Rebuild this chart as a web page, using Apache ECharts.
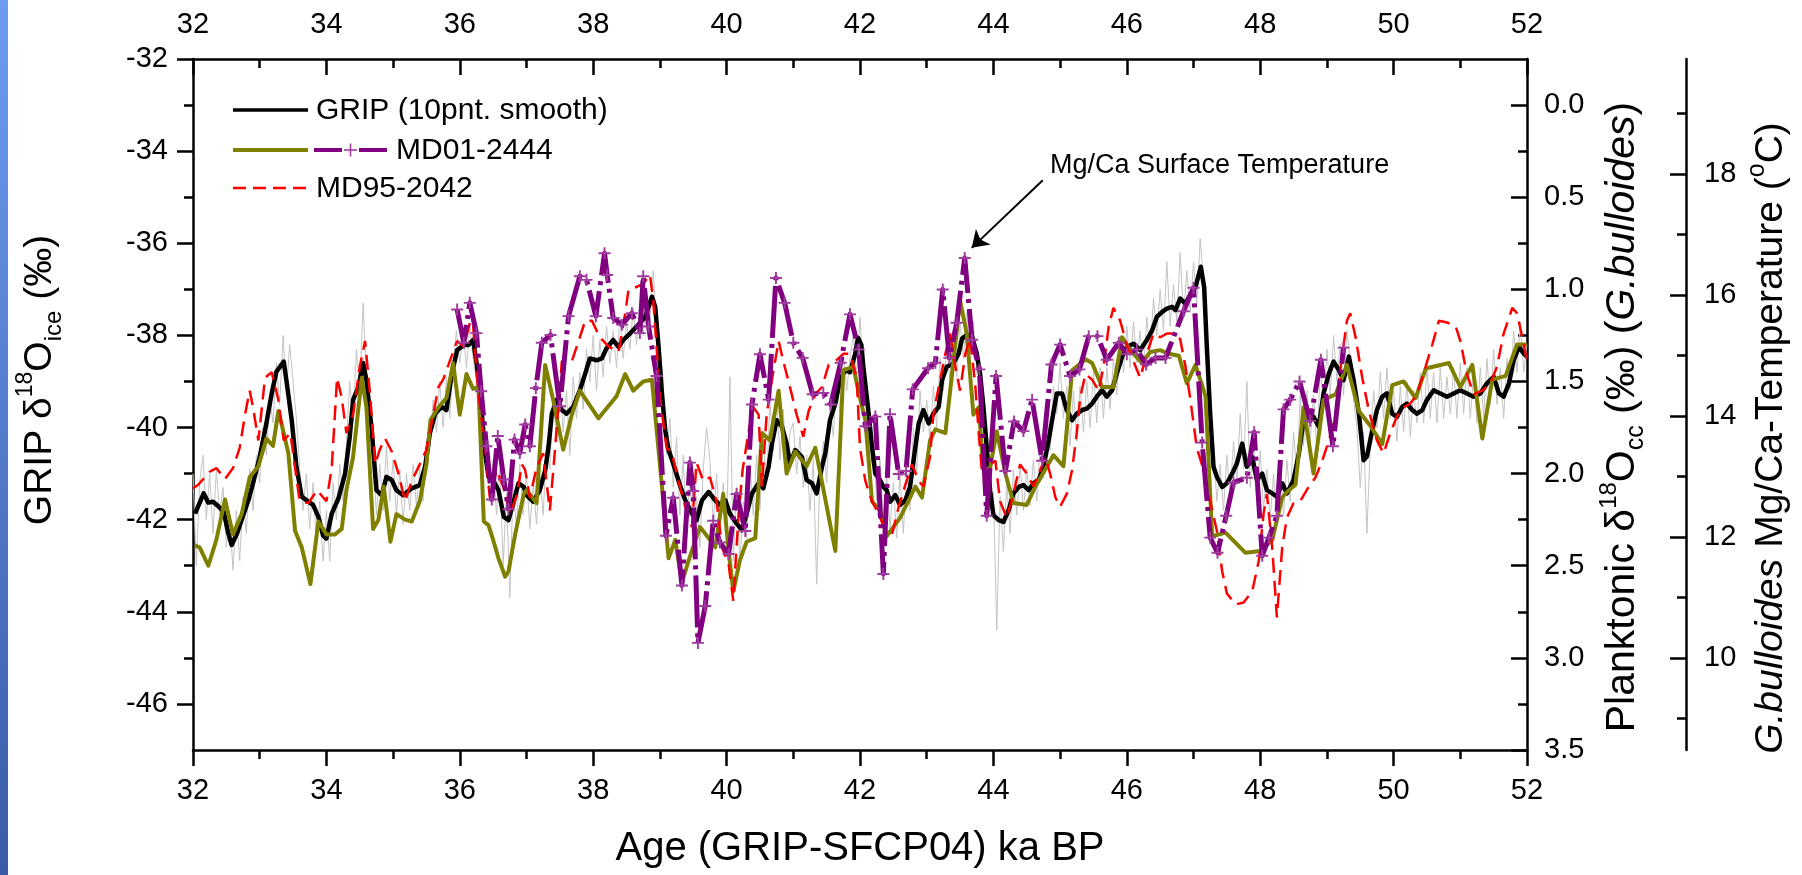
<!DOCTYPE html>
<html><head><meta charset="utf-8">
<script src="https://cdn.jsdelivr.net/npm/echarts@6/dist/echarts.min.js"></script>
<style>html,body{margin:0;padding:0;background:#fff}#c{width:1802px;height:875px}</style>
</head><body><div id="c"></div>
<script>
const FONT = '"Liberation Sans", Arial, Helvetica, sans-serif';

// ---------- axis ticks ----------
const ageMin = 32, ageMax = 52, ageInterval = 2;
const gripTicks = [-46, -44, -42, -40, -38, -36, -34, -32];
const gripMinorTicks = [-45, -43, -41, -39, -37, -35, -33];
const d18OTicks = [0, 0.5, 1, 1.5, 2, 2.5, 3, 3.5];
const d18OMinorTicks = [0.25, 0.75, 1.25, 1.75, 2.25, 2.75, 3.25];
const tempTicks = [10, 12, 14, 16, 18];
const tempMinorTicks = [9, 11, 13, 15, 17, 19];

// ---------- GRIP raw (20 values per ka, from 32.00 ka, step 0.05 ka) ----------
const gripRawStart = 32, gripRawStep = 0.05;
const gripRaw = [
-41.0,-43.0,-41.2,-40.6,-42.0,-41.0,-42.3,-40.9,-41.9,-41.3,-42.6,-41.9,-43.1,-41.8,-42.9,-41.5,-42.3,-40.9,-41.8,-40.6,
-41.2,-40.0,-40.6,-39.4,-39.9,-38.6,-39.5,-38.0,-39.2,-38.2,-39.0,-39.8,-40.9,-41.8,-41.0,-42.2,-41.2,-42.5,-41.6,-42.9,
-41.8,-42.9,-41.2,-42.0,-40.8,-41.6,-40.3,-39.0,-39.9,-38.3,-39.2,-37.3,-38.9,-39.6,-40.6,-41.9,-40.8,-41.8,-40.4,-41.6,
-40.7,-41.9,-40.9,-42.1,-41.0,-41.8,-40.8,-41.7,-40.9,-41.6,-40.3,-40.5,-39.4,-40.1,-39.0,-40.0,-38.9,-39.8,-38.6,-37.9,
-38.6,-37.9,-38.7,-37.8,-38.5,-39.0,-38.8,-40.3,-40.2,-41.6,-40.7,-41.9,-40.9,-43.0,-41.4,-43.7,-41.2,-42.2,-40.8,-41.9,
-41.0,-42.2,-41.2,-42.1,-41.0,-41.9,-40.4,-40.9,-39.3,-40.2,-39.0,-40.1,-39.2,-40.6,-38.9,-39.8,-38.8,-39.6,-38.3,-39.0,
-38.0,-39.2,-38.1,-38.9,-37.8,-38.6,-37.9,-38.7,-37.6,-38.5,-37.7,-38.3,-37.4,-38.2,-37.3,-38.0,-37.1,-37.7,-36.6,-37.8,
-38.2,-39.0,-40.6,-39.8,-41.3,-40.2,-41.9,-40.6,-42.4,-41.0,-42.8,-41.5,-42.6,-40.9,-40.0,-40.7,-42.1,-41.0,-42.3,-41.2,
-42.4,-38.9,-42.9,-41.3,-43.0,-41.6,-42.4,-40.8,-41.9,-40.6,-41.8,-40.3,-41.2,-39.4,-40.5,-39.3,-40.7,-39.6,-41.0,-40.1,
-39.9,-41.0,-40.2,-41.3,-40.6,-41.8,-40.7,-43.4,-41.0,-40.3,-41.2,-39.5,-40.2,-38.9,-39.7,-38.4,-39.2,-38.5,-38.0,-38.9,
-37.6,-38.9,-39.3,-40.9,-40.4,-41.6,-40.7,-42.0,-41.0,-42.2,-41.2,-42.4,-41.0,-42.3,-40.9,-41.8,-40.0,-41.0,-39.2,-40.1,
-39.4,-40.3,-39.1,-40.0,-38.5,-39.2,-38.2,-39.0,-38.0,-38.9,-37.7,-38.5,-37.5,-38.4,-37.7,-38.8,-39.0,-40.0,-40.9,-41.8,
-41.4,-44.4,-41.5,-42.7,-41.2,-42.3,-40.9,-41.9,-40.8,-41.8,-40.9,-41.7,-40.7,-41.6,-40.4,-41.1,-39.7,-40.5,-39.1,-39.7,
-38.6,-39.8,-39.1,-40.4,-39.2,-40.3,-39.1,-40.1,-39.0,-40.0,-38.8,-39.9,-38.7,-39.8,-38.7,-39.6,-38.5,-39.3,-38.0,-38.8,
-37.8,-38.7,-37.7,-38.6,-37.9,-38.8,-37.6,-38.4,-37.2,-38.0,-37.0,-37.9,-36.4,-37.8,-36.9,-37.7,-36.2,-37.6,-36.6,-37.5,
-36.4,-37.3,-35.9,-36.8,-38.6,-40.2,-40.4,-41.6,-40.8,-41.8,-40.6,-41.5,-40.3,-41.2,-39.7,-40.9,-39.0,-41.3,-40.2,-41.6,
-40.5,-41.8,-40.9,-42.0,-41.0,-42.1,-40.8,-41.9,-40.7,-41.6,-40.1,-41.0,-39.3,-40.4,-39.2,-40.3,-39.3,-40.5,-38.7,-39.6,
-38.3,-39.3,-38.0,-39.0,-38.2,-39.3,-37.9,-38.6,-39.4,-40.0,-41.3,-40.1,-42.3,-40.4,-39.2,-40.0,-38.8,-39.8,-38.7,-39.8,
-39.2,-40.3,-39.1,-40.1,-39.0,-40.2,-39.2,-39.9,-38.8,-39.9,-38.7,-39.8,-38.8,-39.9,-38.7,-39.8,-38.9,-39.7,-38.7,-39.8,
-38.6,-39.7,-38.7,-39.8,-38.8,-39.9,-38.7,-39.8,-38.5,-39.5,-38.3,-39.5,-38.7,-39.8,-38.5,-39.2,-37.9,-38.8,-37.7,-38.8,
-38.2
];

// ---------- GRIP 10-point smooth [age ka, d18O ice] ----------
const gripSmooth = [
[32.03,-41.87],[32.16,-41.43],[32.23,-41.63],[32.3,-41.61],[32.38,-41.71],[32.46,-41.83],[32.53,-42.3],[32.58,-42.55],[32.66,-42.3],[32.76,-41.87],[32.83,-41.58],[32.9,-41.21],[33.0,-40.64],[33.1,-39.91],[33.18,-39.26],[33.25,-38.79],[33.36,-38.57],[33.4,-38.97],[33.48,-39.84],[33.55,-40.85],[33.63,-41.5],[33.73,-41.61],[33.8,-41.68],[33.88,-41.94],[33.95,-42.34],[34.0,-42.41],[34.08,-41.87],[34.18,-41.54],[34.28,-41.0],[34.35,-40.2],[34.4,-39.4],[34.48,-39.12],[34.55,-38.6],[34.6,-38.97],[34.68,-40.06],[34.75,-41.36],[34.83,-41.47],[34.9,-41.07],[34.98,-41.14],[35.05,-41.36],[35.15,-41.47],[35.28,-41.32],[35.4,-41.25],[35.48,-40.85],[35.55,-40.13],[35.63,-39.7],[35.73,-39.55],[35.8,-39.62],[35.88,-38.83],[35.96,-38.32],[36.06,-38.21],[36.13,-38.21],[36.2,-38.1],[36.26,-38.68],[36.33,-39.7],[36.38,-40.56],[36.43,-41.07],[36.5,-41.14],[36.58,-41.36],[36.66,-41.94],[36.73,-42.01],[36.8,-41.65],[36.88,-41.21],[36.96,-41.29],[37.0,-41.47],[37.1,-41.61],[37.2,-41.36],[37.28,-40.93],[37.33,-40.42],[37.38,-39.7],[37.45,-39.4],[37.53,-39.62],[37.6,-39.7],[37.7,-39.55],[37.8,-39.19],[37.88,-38.83],[37.95,-38.5],[38.05,-38.54],[38.13,-38.5],[38.2,-38.28],[38.3,-38.1],[38.38,-38.25],[38.45,-38.1],[38.55,-37.96],[38.65,-37.81],[38.78,-37.6],[38.88,-37.16],[38.93,-37.38],[38.98,-38.25],[39.03,-39.26],[39.08,-40.06],[39.13,-40.49],[39.2,-40.78],[39.3,-41.25],[39.38,-41.58],[39.48,-41.87],[39.55,-42.01],[39.63,-41.58],[39.73,-41.4],[39.83,-41.58],[39.9,-41.68],[39.98,-41.58],[40.05,-41.87],[40.15,-42.08],[40.23,-42.23],[40.3,-41.87],[40.38,-41.43],[40.48,-41.21],[40.55,-41.32],[40.63,-40.85],[40.68,-40.35],[40.75,-39.84],[40.83,-39.98],[40.9,-40.35],[40.95,-40.78],[41.03,-40.49],[41.13,-40.64],[41.2,-41.14],[41.28,-41.21],[41.35,-41.43],[41.43,-40.85],[41.48,-40.56],[41.55,-39.84],[41.63,-39.48],[41.7,-38.97],[41.78,-38.75],[41.85,-38.8],[41.93,-38.39],[41.97,-38.05],[42.02,-38.2],[42.05,-38.68],[42.13,-39.7],[42.18,-40.42],[42.23,-41.0],[42.3,-41.14],[42.35,-41.29],[42.4,-41.36],[42.45,-41.61],[42.53,-41.47],[42.6,-41.68],[42.68,-41.58],[42.75,-41.29],[42.83,-40.42],[42.88,-39.91],[42.95,-39.62],[43.03,-39.91],[43.1,-39.7],[43.18,-39.55],[43.23,-38.97],[43.3,-38.68],[43.4,-38.61],[43.48,-38.39],[43.53,-38.07],[43.6,-37.99],[43.68,-38.03],[43.75,-38.39],[43.8,-38.83],[43.85,-39.55],[43.9,-40.42],[43.95,-41.36],[44.0,-41.9],[44.08,-42.01],[44.15,-42.05],[44.23,-41.79],[44.3,-41.43],[44.38,-41.29],[44.45,-41.25],[44.53,-41.36],[44.6,-41.21],[44.68,-41.14],[44.75,-40.85],[44.83,-40.27],[44.88,-39.84],[44.95,-39.26],[45.03,-39.26],[45.1,-39.62],[45.18,-39.84],[45.25,-39.7],[45.33,-39.62],[45.4,-39.59],[45.48,-39.48],[45.55,-39.33],[45.63,-39.19],[45.7,-39.33],[45.78,-39.19],[45.85,-38.83],[45.93,-38.46],[46.0,-38.25],[46.1,-38.18],[46.2,-38.32],[46.3,-38.1],[46.38,-37.89],[46.45,-37.6],[46.53,-37.49],[46.6,-37.42],[46.68,-37.38],[46.73,-37.45],[46.8,-37.2],[46.88,-37.31],[46.95,-37.12],[47.03,-36.95],[47.11,-36.51],[47.16,-36.95],[47.2,-38.25],[47.25,-39.7],[47.3,-40.85],[47.35,-41.07],[47.43,-41.29],[47.5,-41.21],[47.58,-41.0],[47.65,-40.78],[47.73,-40.35],[47.8,-40.85],[47.88,-40.64],[47.95,-41.14],[48.03,-41.0],[48.1,-41.36],[48.18,-41.43],[48.25,-41.5],[48.33,-41.21],[48.4,-41.43],[48.5,-41.14],[48.58,-40.56],[48.65,-39.84],[48.73,-39.7],[48.8,-39.77],[48.88,-39.98],[48.95,-39.26],[49.03,-38.83],[49.1,-38.57],[49.18,-38.75],[49.25,-38.97],[49.33,-38.46],[49.4,-38.97],[49.48,-39.7],[49.55,-40.71],[49.6,-40.63],[49.68,-40.06],[49.75,-39.62],[49.83,-39.33],[49.9,-39.26],[49.98,-39.7],[50.05,-39.77],[50.13,-39.55],[50.2,-39.48],[50.28,-39.62],[50.35,-39.7],[50.43,-39.62],[50.5,-39.4],[50.6,-39.19],[50.7,-39.26],[50.8,-39.33],[50.9,-39.26],[51.0,-39.19],[51.1,-39.26],[51.2,-39.33],[51.3,-39.26],[51.4,-39.04],[51.5,-38.9],[51.58,-39.26],[51.65,-39.33],[51.73,-39.04],[51.8,-38.54],[51.88,-38.25],[51.95,-38.39],[52.0,-38.46]
];

// ---------- MD01-2444 planktonic d18O (G. bulloides) [age, permil] ----------
const md01d18O = [
[32.03,2.39],[32.1,2.40],[32.23,2.50],[32.35,2.36],[32.48,2.14],[32.6,2.33],[32.73,2.22],[32.85,2.02],[32.98,1.96],[33.1,1.81],[33.2,1.85],[33.28,1.66],[33.36,1.78],[33.43,1.89],[33.53,2.31],[33.63,2.40],[33.76,2.60],[33.88,2.26],[34.0,2.33],[34.13,2.33],[34.23,2.30],[34.3,2.09],[34.4,1.91],[34.53,1.48],[34.6,1.64],[34.7,2.30],[34.78,2.25],[34.86,2.07],[34.96,2.37],[35.05,2.22],[35.18,2.25],[35.28,2.26],[35.4,2.15],[35.5,1.95],[35.56,1.71],[35.68,1.64],[35.8,1.59],[35.9,1.40],[36.0,1.68],[36.1,1.46],[36.2,1.54],[36.28,1.53],[36.36,2.26],[36.43,2.28],[36.5,2.36],[36.58,2.46],[36.68,2.56],[36.73,2.53],[36.83,2.33],[36.96,2.11],[37.0,2.09],[37.15,2.16],[37.28,1.41],[37.4,1.60],[37.55,1.87],[37.68,1.68],[37.8,1.55],[38.08,1.70],[38.35,1.58],[38.48,1.46],[38.6,1.55],[38.75,1.50],[38.88,1.49],[39.0,1.95],[39.13,2.46],[39.23,2.36],[39.33,2.59],[39.45,2.45],[39.6,2.29],[39.73,2.35],[39.83,2.40],[39.95,2.11],[40.03,2.42],[40.1,2.64],[40.2,2.47],[40.3,2.37],[40.43,2.35],[40.53,1.78],[40.65,1.82],[40.78,1.55],[40.9,2.0],[41.03,1.88],[41.2,1.96],[41.33,1.86],[41.63,2.42],[41.75,1.44],[41.9,1.42],[42.0,1.59],[42.08,1.71],[42.18,2.15],[42.3,2.20],[42.4,2.34],[42.6,2.24],[42.75,2.13],[42.83,2.07],[42.93,2.13],[43.05,1.82],[43.13,1.76],[43.28,1.78],[43.38,1.46],[43.5,1.06],[43.6,1.24],[43.7,1.68],[43.78,1.64],[43.85,1.98],[43.95,1.97],[44.05,1.77],[44.18,2.00],[44.3,2.16],[44.5,2.17],[44.63,2.07],[44.9,1.90],[45.05,1.96],[45.18,1.44],[45.38,1.38],[45.48,1.40],[45.63,1.53],[45.8,1.53],[45.93,1.26],[46.05,1.33],[46.23,1.40],[46.35,1.34],[46.5,1.33],[46.63,1.35],[46.78,1.36],[46.9,1.51],[47.03,1.41],[47.18,1.58],[47.28,2.34],[47.48,2.32],[47.78,2.43],[48.0,2.42],[48.18,2.36],[48.33,2.13],[48.4,2.10],[48.53,2.06],[48.65,1.64],[48.8,2.0],[48.95,1.60],[49.13,1.57],[49.3,1.41],[49.48,1.66],[49.65,1.74],[49.83,1.84],[49.98,1.52],[50.15,1.50],[50.33,1.59],[50.48,1.43],[50.83,1.40],[51.0,1.53],[51.18,1.41],[51.33,1.81],[51.48,1.49],[51.68,1.47],[51.85,1.30],[52.0,1.30]
];

// ---------- MD01-2444 G. bulloides Mg/Ca temperature [age, degC] ----------
const md01MgCa = [
[35.96,15.76],[36.06,15.21],[36.15,15.87],[36.25,15.37],[36.32,14.41],[36.4,13.5],[36.48,12.62],[36.57,13.67],[36.66,12.95],[36.73,12.46],[36.82,13.61],[36.9,13.39],[36.98,13.86],[37.05,13.5],[37.14,14.46],[37.23,15.21],[37.36,15.34],[37.5,14.16],[37.63,15.65],[37.8,16.31],[37.9,16.25],[38.04,15.65],[38.17,16.69],[38.21,16.33],[38.3,15.62],[38.43,15.51],[38.58,15.7],[38.7,15.37],[38.75,16.31],[38.83,15.48],[38.95,14.66],[39.09,12.02],[39.2,12.65],[39.33,11.2],[39.45,13.23],[39.5,12.76],[39.57,10.25],[39.68,10.86],[39.8,12.27],[39.9,11.91],[40.03,11.72],[40.15,12.71],[40.28,12.1],[40.38,14.19],[40.5,15.02],[40.63,14.27],[40.74,16.28],[40.87,15.87],[41.0,15.21],[41.14,14.96],[41.29,14.36],[41.45,14.38],[41.56,14.19],[41.71,14.88],[41.85,15.68],[41.98,15.1],[42.08,13.83],[42.23,13.99],[42.35,11.39],[42.45,14.03],[42.58,13.04],[42.69,13.09],[42.79,14.44],[43.02,14.79],[43.13,14.88],[43.24,16.09],[43.34,14.96],[43.45,15.54],[43.57,16.61],[43.68,15.26],[43.79,14.77],[43.9,12.35],[44.04,14.66],[44.18,13.09],[44.31,13.91],[44.45,13.75],[44.58,14.27],[44.73,13.26],[44.87,14.85],[45.0,15.18],[45.15,14.66],[45.29,14.77],[45.43,15.32],[45.56,15.32],[45.7,14.93],[45.88,15.21],[46.0,15.02],[46.15,15.1],[46.29,14.85],[46.43,14.96],[46.58,14.96],[46.85,15.73],[47.0,16.12],[47.13,13.56],[47.25,11.99],[47.36,11.74],[47.49,12.35],[47.6,12.9],[47.8,12.98],[47.91,13.73],[48.03,11.69],[48.13,11.99],[48.25,12.35],[48.35,14.11],[48.45,14.27],[48.59,14.57],[48.75,13.92],[48.91,14.93],[49.09,13.5],[49.25,15.13]
];

// ---------- MD95-2042 planktonic d18O [age, permil] ----------
const md95d18O = [
[32.0,2.08],[32.08,2.06],[32.25,1.99],[32.35,1.97],[32.48,2.03],[32.6,1.97],[32.7,1.86],[32.78,1.68],[32.85,1.55],[32.9,1.64],[32.98,1.82],[33.08,1.48],[33.18,1.45],[33.28,1.60],[33.36,1.82],[33.46,1.78],[33.53,1.97],[33.6,2.15],[33.73,2.16],[33.86,2.09],[34.0,2.15],[34.08,1.97],[34.16,1.48],[34.23,1.59],[34.3,1.78],[34.4,1.68],[34.5,1.42],[34.58,1.28],[34.66,1.59],[34.73,1.95],[34.8,1.87],[34.88,1.81],[34.98,1.88],[35.08,2.00],[35.18,2.15],[35.28,2.04],[35.4,1.95],[35.5,1.87],[35.6,1.68],[35.68,1.53],[35.75,1.49],[35.85,1.39],[35.96,1.28],[36.06,1.31],[36.16,1.17],[36.2,1.20],[36.28,1.57],[36.35,1.77],[36.45,2.13],[36.55,1.98],[36.65,2.07],[36.76,2.22],[36.86,2.11],[36.93,1.95],[36.98,1.98],[37.05,2.13],[37.15,1.97],[37.25,1.89],[37.35,2.20],[37.43,1.86],[37.53,1.39],[37.68,1.39],[37.8,1.26],[37.88,1.17],[37.98,1.17],[38.1,1.26],[38.23,1.31],[38.38,1.34],[38.48,1.13],[38.53,1.00],[38.63,0.99],[38.75,0.97],[38.85,0.92],[38.9,1.06],[38.95,1.31],[39.0,1.58],[39.1,1.86],[39.18,1.89],[39.28,2.04],[39.38,2.18],[39.48,2.29],[39.55,1.94],[39.65,2.04],[39.75,2.02],[39.85,2.15],[39.93,2.40],[40.03,2.49],[40.1,2.69],[40.18,2.22],[40.24,1.98],[40.33,1.77],[40.4,1.64],[40.48,1.68],[40.53,2.07],[40.6,1.68],[40.68,1.49],[40.78,1.28],[40.85,1.39],[40.95,1.53],[41.05,1.68],[41.15,1.80],[41.23,1.66],[41.33,1.57],[41.43,1.53],[41.53,1.41],[41.63,1.39],[41.75,1.35],[41.85,1.35],[41.95,1.48],[42.0,1.86],[42.08,2.04],[42.18,2.15],[42.28,2.22],[42.38,2.31],[42.48,2.33],[42.58,2.18],[42.68,2.06],[42.78,1.95],[42.88,2.04],[42.95,2.07],[43.05,1.91],[43.1,1.68],[43.18,1.53],[43.28,1.35],[43.35,1.24],[43.43,1.42],[43.5,1.55],[43.58,1.35],[43.65,1.26],[43.73,1.53],[43.78,1.78],[43.83,2.00],[43.88,2.04],[43.95,1.95],[44.03,1.93],[44.1,2.15],[44.2,2.24],[44.3,2.11],[44.4,1.95],[44.5,2.00],[44.6,2.07],[44.68,2.00],[44.78,1.91],[44.85,2.00],[44.93,2.13],[45.0,2.18],[45.1,2.11],[45.18,1.98],[45.25,1.78],[45.3,1.59],[45.38,1.46],[45.48,1.49],[45.58,1.55],[45.65,1.42],[45.73,1.20],[45.8,1.10],[45.9,1.17],[46.0,1.30],[46.1,1.39],[46.2,1.48],[46.3,1.35],[46.4,1.24],[46.5,1.26],[46.6,1.24],[46.7,1.24],[46.8,1.27],[46.88,1.42],[46.95,1.59],[47.05,1.86],[47.15,1.98],[47.25,2.15],[47.35,2.31],[47.43,2.53],[47.5,2.65],[47.63,2.71],[47.75,2.70],[47.88,2.64],[47.98,2.47],[48.05,2.22],[48.1,2.11],[48.18,2.40],[48.25,2.78],[48.33,2.40],[48.4,2.24],[48.5,2.16],[48.6,2.15],[48.73,2.07],[48.83,2.02],[48.93,1.93],[49.03,1.82],[49.13,1.68],[49.2,1.44],[49.3,1.17],[49.35,1.13],[49.43,1.26],[49.53,1.48],[49.63,1.66],[49.75,1.82],[49.85,1.89],[49.95,1.78],[50.05,1.69],[50.15,1.64],[50.25,1.62],[50.35,1.57],[50.48,1.42],[50.58,1.30],[50.68,1.17],[50.8,1.18],[50.93,1.20],[51.0,1.28],[51.1,1.46],[51.2,1.57],[51.33,1.55],[51.45,1.51],[51.55,1.42],[51.65,1.24],[51.78,1.10],[51.85,1.13],[51.93,1.26],[52.0,1.39]
];

// annotation arrow (data coordinates on GRIP axis)
const arrowTail = [44.74, -34.63];
const arrowTip = [43.675, -36.10];

// ---------- build ----------
const gripRawData = gripRaw.map((v, i) => [+(gripRawStart + i * gripRawStep).toFixed(2), v]);

const chart = echarts.init(document.getElementById('c'), null, {renderer: 'canvas'});
const lineSt = {color: '#000', width: 2.5};
const tickSt = {color: '#000', width: 2.5};
const lbl = {color: '#000', fontFamily: FONT, fontSize: 29};
const plusPath = 'path://M8.4,0H11.6V8.4H20V11.6H11.6V20H8.4V11.6H0V8.4H8.4Z';

function majorY(extra) {
  return Object.assign({
    type: 'value', splitLine: {show: false}, axisLine: {show: true, onZero: false, lineStyle: lineSt}
  }, extra);
}

const option = {
  animation: false,
  backgroundColor: '#fff',
  grid: {left: 193, top: 59, right: 275, bottom: 125, containLabel: false},
  xAxis: [
    {type: 'value', position: 'bottom', min: ageMin, max: ageMax, interval: ageInterval,
     axisLine: {show: true, onZero: false, lineStyle: lineSt},
     axisTick: {show: true, inside: false, length: 16, lineStyle: tickSt},
     minorTick: {show: true, splitNumber: 2, length: 9, lineStyle: tickSt},
     axisLabel: Object.assign({margin: 26}, lbl),
     splitLine: {show: false}, minorSplitLine: {show: false},
     name: 'Age (GRIP-SFCP04) ka BP', nameLocation: 'middle', nameGap: 79,
     nameTextStyle: {fontFamily: FONT, fontSize: 40, color: '#000'}},
    {type: 'value', position: 'top', min: ageMin, max: ageMax, interval: ageInterval,
     axisLine: {show: true, onZero: false, lineStyle: lineSt},
     axisTick: {show: true, inside: true, length: 16, lineStyle: tickSt},
     minorTick: {show: true, splitNumber: 2, length: 9, lineStyle: tickSt},
     axisLabel: Object.assign({margin: 20}, lbl),
     splitLine: {show: false}, minorSplitLine: {show: false}}
  ],
  yAxis: [
    // 0: GRIP d18O (left)
    majorY({position: 'left', min: -47, max: -32,
      axisTick: {show: true, inside: false, length: 16, lineStyle: tickSt, customValues: gripTicks},
      axisLabel: Object.assign({margin: 25, customValues: gripTicks}, lbl)}),
    // 1: GRIP minor ticks
    majorY({position: 'left', offset: 0, min: -47, max: -32, axisLine: {show: false},
      axisTick: {show: true, inside: false, length: 9, lineStyle: tickSt, customValues: gripMinorTicks},
      axisLabel: {show: false}}),
    // 2: planktonic d18O (right, inverted)
    majorY({position: 'right', offset: 0, min: -0.25, max: 3.5, inverse: true,
      axisTick: {show: true, inside: true, length: 16, lineStyle: tickSt, customValues: d18OTicks},
      axisLabel: Object.assign({margin: 17, customValues: d18OTicks, formatter: v => v.toFixed(1)}, lbl)}),
    // 3: d18O minor ticks
    majorY({position: 'right', offset: 0, min: -0.25, max: 3.5, inverse: true, axisLine: {show: false},
      axisTick: {show: true, inside: true, length: 9, lineStyle: tickSt, customValues: d18OMinorTicks},
      axisLabel: {show: false}}),
    // 4: Mg/Ca temperature (offset right)
    majorY({position: 'right', offset: 159, min: 8.48, max: 19.9,
      axisTick: {show: true, inside: true, length: 16, lineStyle: tickSt, customValues: tempTicks},
      axisLabel: Object.assign({margin: 18, customValues: tempTicks}, lbl)}),
    // 5: temperature minor ticks
    majorY({position: 'right', offset: 159, min: 8.48, max: 19.9, axisLine: {show: false},
      axisTick: {show: true, inside: true, length: 9, lineStyle: tickSt, customValues: tempMinorTicks},
      axisLabel: {show: false}})
  ],
  series: [
    {name: 'GRIP raw', type: 'line', xAxisIndex: 0, yAxisIndex: 0, data: gripRawData,
     symbol: 'none', lineStyle: {color: '#c4c4c4', width: 1}, z: 1, silent: true},
    {name: 'GRIP (10pnt. smooth)', type: 'line', xAxisIndex: 0, yAxisIndex: 0, data: gripSmooth,
     symbol: 'none', lineStyle: {color: '#000', width: 4.5, join: 'round'}, z: 3,
     markLine: {silent: true, symbol: ['none', 'arrow'], symbolSize: 16, animation: false,
       lineStyle: {color: '#000', width: 2, type: 'solid'}, label: {show: false},
       data: [[{coord: arrowTail}, {coord: arrowTip}]]}},
    {name: 'MD01-2444 d18O', type: 'line', xAxisIndex: 0, yAxisIndex: 2, data: md01d18O,
     symbol: 'none', lineStyle: {color: '#808000', width: 4, join: 'round'}, z: 4},
    {name: 'MD95-2042', type: 'line', xAxisIndex: 0, yAxisIndex: 2, data: md95d18O,
     symbol: 'none', lineStyle: {color: '#ff0000', width: 2.5, type: [15, 8]}, z: 5},
    {name: 'MD01-2444 Mg/Ca', type: 'line', xAxisIndex: 0, yAxisIndex: 4, data: md01MgCa,
     symbol: plusPath, symbolSize: 12, showSymbol: true,
     itemStyle: {color: '#a03ca0'}, lineStyle: {color: '#800080', width: 5, type: [52, 6, 4, 6], join: 'round'}, z: 6}
  ],
  graphic: [
    {type: 'rect', silent: true, shape: {x: 0, y: 0, width: 8, height: 875},
     style: {fill: new echarts.graphic.LinearGradient(0, 0, 0, 1, [{offset: 0, color: '#6c9cf0'}, {offset: 1, color: '#3b5ca6'}])}},
    // legend
    {type: 'line', silent: true, shape: {x1: 233, y1: 110, x2: 308, y2: 110}, style: {stroke: '#000', lineWidth: 3.5}},
    {type: 'text', silent: true, x: 316, y: 111, style: {text: 'GRIP (10pnt. smooth)', fontFamily: FONT, fontSize: 30, fill: '#000', verticalAlign: 'middle'}},
    {type: 'line', silent: true, shape: {x1: 233, y1: 150, x2: 308, y2: 150}, style: {stroke: '#808000', lineWidth: 4}},
    {type: 'line', silent: true, shape: {x1: 314, y1: 150, x2: 342, y2: 150}, style: {stroke: '#800080', lineWidth: 4}},
    {type: 'line', silent: true, shape: {x1: 359, y1: 150, x2: 387, y2: 150}, style: {stroke: '#800080', lineWidth: 4}},
    {type: 'line', silent: true, shape: {x1: 344, y1: 150, x2: 357, y2: 150}, style: {stroke: '#a03ca0', lineWidth: 1.6}},
    {type: 'line', silent: true, shape: {x1: 350.5, y1: 143.5, x2: 350.5, y2: 156.5}, style: {stroke: '#a03ca0', lineWidth: 1.6}},
    {type: 'text', silent: true, x: 396, y: 151, style: {text: 'MD01-2444', fontFamily: FONT, fontSize: 30, fill: '#000', verticalAlign: 'middle'}},
    {type: 'line', silent: true, shape: {x1: 233, y1: 188, x2: 306, y2: 188}, style: {stroke: '#ff0000', lineWidth: 2.5, lineDash: [13, 7]}},
    {type: 'text', silent: true, x: 316, y: 189, style: {text: 'MD95-2042', fontFamily: FONT, fontSize: 30, fill: '#000', verticalAlign: 'middle'}},
    // annotation
    {type: 'text', silent: true, x: 1050, y: 166, style: {text: 'Mg/Ca Surface Temperature', fontFamily: FONT, fontSize: 27, fill: '#000', verticalAlign: 'middle'}},
    // axis titles
    {type: 'text', silent: true, x: 40, y: 380, rotation: Math.PI / 2,
     style: {text: 'GRIP δ{sup|18}O{sub|ice} (‰)', fontFamily: FONT, fontSize: 39, lineHeight: 52, fill: '#000', align: 'center', verticalAlign: 'middle',
       rich: {sup: {fontFamily: FONT, fontSize: 23, verticalAlign: 'top', fill: '#000'}, sub: {fontFamily: FONT, fontSize: 24, verticalAlign: 'bottom', fill: '#000'}}}},
    {type: 'text', silent: true, x: 1623, y: 417, rotation: Math.PI / 2,
     style: {text: 'Planktonic δ{sup|18}O{sub|cc} (‰) ({it|G.bulloides})', fontFamily: FONT, fontSize: 41, lineHeight: 52, fill: '#000', align: 'center', verticalAlign: 'middle',
       rich: {sup: {fontFamily: FONT, fontSize: 24, verticalAlign: 'top', fill: '#000'}, sub: {fontFamily: FONT, fontSize: 25, verticalAlign: 'bottom', fill: '#000'},
              it: {fontFamily: FONT, fontSize: 41, fontStyle: 'italic', fill: '#000'}}}},
    {type: 'text', silent: true, x: 1771, y: 438, rotation: Math.PI / 2,
     style: {text: '{it|G.bulloides} Mg/Ca-Temperature ({sup|o}C)', fontFamily: FONT, fontSize: 39, lineHeight: 52, fill: '#000', align: 'center', verticalAlign: 'middle',
       rich: {sup: {fontFamily: FONT, fontSize: 25, verticalAlign: 'top', fill: '#000'},
              it: {fontFamily: FONT, fontSize: 39, fontStyle: 'italic', fill: '#000'}}}}
  ]
};
chart.setOption(option);
</script>
</body></html>
